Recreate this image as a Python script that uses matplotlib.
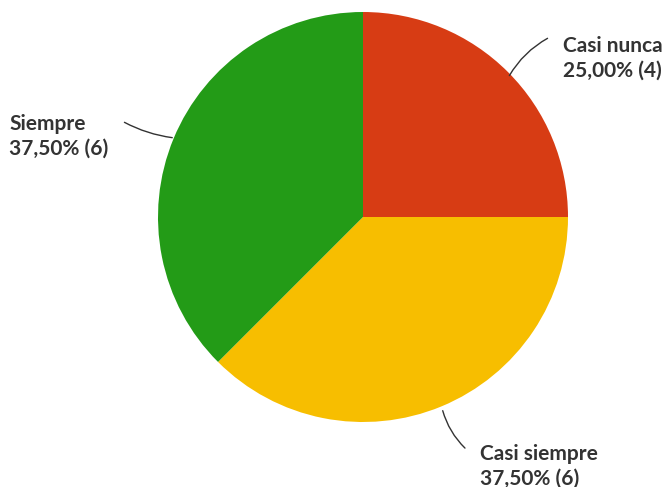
import matplotlib
matplotlib.use('Agg')
import matplotlib.pyplot as plt

labels = ['Casi nunca', 'Casi siempre', 'Siempre']
counts = [4, 6, 6]
percents = ['25,00%', '37,50%', '37,50%']
colors = ['#D73C14', '#F7BE00', '#239B17']

W, H = 668, 487

fig = plt.figure(figsize=(W / 100, H / 100), dpi=100)
ax = fig.add_axes([0, 0, 1, 1])

cx, cy, r = 363, H - 217, 205
ax.pie(counts, colors=colors, startangle=90, counterclock=False,
       center=(cx, cy), radius=r, frame=True,
       wedgeprops={'linewidth': 0})
ax.set_xlim(0, W)
ax.set_ylim(0, H)
ax.set_aspect('equal')
ax.axis('off')

# label positions (text anchor, line start on slice, line end near text, curvature)
label_pos = [
    ((563, H - 58), (508, H - 78), (550, H - 37), -0.15),
    ((480, H - 466), (442, H - 408), (467, H - 450), 0.15),
    ((9, H - 136), (175, H - 138), (122, H - 121), -0.1),
]

for lab, cnt, pct, (tpos, p0, p1, rad) in zip(labels, counts, percents, label_pos):
    ax.text(tpos[0], tpos[1], f'{lab}\n{pct} ({cnt})', fontsize=15,
            fontweight='bold', family='Lato', color='#333333',
            ha='left', va='center', linespacing=1.3)
    ax.annotate('', xy=p1, xytext=p0,
                arrowprops=dict(arrowstyle='-', color='#333333', lw=1,
                                connectionstyle=f'arc3,rad={rad}'))

fig.savefig('out.png', dpi=100)
